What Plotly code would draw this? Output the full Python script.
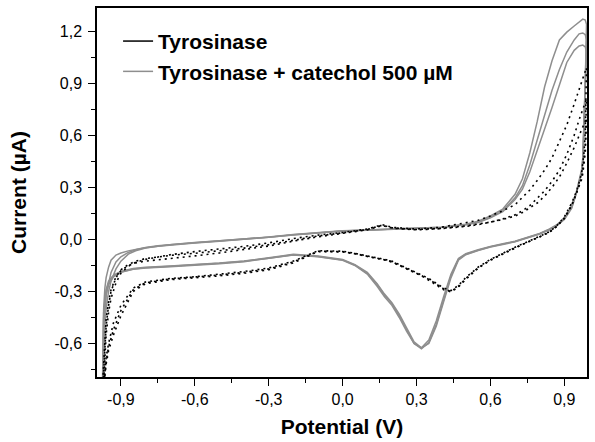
import plotly.graph_objects as go

# Potential grids (V)
E_FWD = [-0.975, -0.97, -0.965, -0.96, -0.95, -0.94, -0.92, -0.9, -0.87, -0.84, -0.8, -0.75, -0.7,
         -0.6, -0.5, -0.4, -0.3, -0.2, -0.1, 0.0, 0.1, 0.16, 0.2, 0.3, 0.4, 0.5, 0.55, 0.6, 0.65,
         0.7, 0.73, 0.76, 0.79, 0.82, 0.85, 0.88, 0.91, 0.94, 0.96, 0.975, 0.985, 0.99]
E_REV = [0.99, 0.985, 0.98, 0.975, 0.97, 0.96, 0.95, 0.93, 0.9, 0.87, 0.84, 0.8, 0.75, 0.7, 0.65,
         0.6, 0.55, 0.5, 0.47, 0.44, 0.41, 0.38, 0.35, 0.32, 0.29, 0.26, 0.23, 0.2, 0.17, 0.14,
         0.1, 0.05, 0.0, -0.1, -0.2, -0.3, -0.4, -0.5, -0.6, -0.7, -0.8, -0.85, -0.9, -0.93,
         -0.95, -0.96, -0.97, -0.975]

# Tyrosinase + catechol 500 uM (grey), three cycles, current in uA
cat1_fwd = [-0.85, -0.40, -0.28, -0.22, -0.16, -0.12, -0.09, -0.078, -0.066, -0.056, -0.046, -0.037,
            -0.03, -0.018, -0.008, 0.002, 0.014, 0.028, 0.04, 0.05, 0.055, 0.058, 0.06, 0.065, 0.07,
            0.088, 0.105, 0.135, 0.175, 0.26, 0.35, 0.50, 0.68, 0.88, 1.03, 1.15, 1.195, 1.23,
            1.255, 1.27, 1.265, 1.24]
cat2_fwd = [-0.9, -0.55, -0.40, -0.32, -0.25, -0.19, -0.13, -0.1, -0.075, -0.06, -0.048, -0.038,
            -0.031, -0.019, -0.009, 0.001, 0.013, 0.027, 0.039, 0.049, 0.054, 0.057, 0.059, 0.064,
            0.07, 0.086, 0.1, 0.128, 0.165, 0.24, 0.31, 0.43, 0.57, 0.71, 0.86, 0.98, 1.08, 1.15,
            1.185, 1.19, 1.18, 1.15]
cat3_fwd = [-0.95, -0.7, -0.5, -0.4, -0.3, -0.24, -0.17, -0.125, -0.085, -0.065, -0.05, -0.04,
            -0.032, -0.02, -0.01, 0.0, 0.012, 0.026, 0.038, 0.048, 0.053, 0.056, 0.058, 0.063,
            0.069, 0.084, 0.098, 0.124, 0.16, 0.23, 0.29, 0.39, 0.51, 0.63, 0.76, 0.89, 1.02, 1.09,
            1.115, 1.12, 1.11, 1.08]
cat1_rev = [1.24, 0.9, 0.62, 0.47, 0.4, 0.33, 0.28, 0.19, 0.12, 0.085, 0.06, 0.035, 0.012, -0.01,
            -0.025, -0.04, -0.06, -0.082, -0.11, -0.2, -0.33, -0.47, -0.58, -0.625, -0.6, -0.53,
            -0.45, -0.38, -0.33, -0.27, -0.2, -0.15, -0.12, -0.1, -0.09, -0.11, -0.128, -0.14,
            -0.15, -0.157, -0.165, -0.172, -0.19, -0.215, -0.26, -0.32, -0.5, -0.85]
cat2_rev = [1.15, 0.88, 0.6, 0.46, 0.39, 0.325, 0.275, 0.185, 0.118, 0.083, 0.058, 0.033, 0.01,
            -0.012, -0.027, -0.042, -0.062, -0.085, -0.115, -0.21, -0.35, -0.49, -0.595, -0.63,
            -0.6, -0.52, -0.44, -0.37, -0.32, -0.26, -0.195, -0.148, -0.118, -0.098, -0.088,
            -0.108, -0.126, -0.138, -0.148, -0.155, -0.163, -0.17, -0.188, -0.21, -0.25, -0.3,
            -0.45, -0.9]
cat3_rev = [1.08, 0.85, 0.58, 0.45, 0.385, 0.32, 0.27, 0.18, 0.115, 0.08, 0.056, 0.031, 0.008,
            -0.014, -0.029, -0.044, -0.064, -0.088, -0.12, -0.22, -0.36, -0.5, -0.6, -0.625, -0.59,
            -0.51, -0.43, -0.365, -0.315, -0.255, -0.19, -0.145, -0.116, -0.096, -0.086, -0.106,
            -0.124, -0.136, -0.146, -0.153, -0.161, -0.168, -0.185, -0.205, -0.24, -0.29, -0.42,
            -0.95]

# Tyrosinase (black dotted), three cycles
tyr1_fwd = [-0.95, -0.8, -0.65, -0.55, -0.42, -0.34, -0.25, -0.195, -0.155, -0.132, -0.115, -0.1,
            -0.088, -0.07, -0.055, -0.04, -0.02, 0.005, 0.025, 0.04, 0.06, 0.085, 0.07, 0.06, 0.07,
            0.095, 0.11, 0.135, 0.165, 0.2, 0.24, 0.285, 0.34, 0.4, 0.47, 0.56, 0.66, 0.78, 0.87,
            0.93, 0.97, 0.99]
tyr2_fwd = [-0.9, -0.75, -0.6, -0.5, -0.38, -0.3, -0.22, -0.18, -0.15, -0.135, -0.125, -0.118,
            -0.11, -0.095, -0.078, -0.06, -0.038, -0.01, 0.015, 0.035, 0.055, 0.08, 0.065, 0.055,
            0.062, 0.075, 0.085, 0.1, 0.118, 0.142, 0.165, 0.195, 0.235, 0.28, 0.335, 0.4, 0.49,
            0.6, 0.69, 0.75, 0.79, 0.81]
tyr3_fwd = [-0.85, -0.7, -0.55, -0.46, -0.36, -0.29, -0.215, -0.175, -0.145, -0.125, -0.11, -0.1,
            -0.092, -0.08, -0.066, -0.05, -0.03, -0.005, 0.02, 0.038, 0.057, 0.082, 0.067, 0.057,
            0.064, 0.078, 0.088, 0.1, 0.115, 0.135, 0.155, 0.18, 0.21, 0.25, 0.3, 0.36, 0.44, 0.53,
            0.6, 0.65, 0.68, 0.7]
tyr1_rev = [0.99, 0.62, 0.5, 0.43, 0.38, 0.33, 0.28, 0.21, 0.13, 0.08, 0.045, 0.018, -0.012,
            -0.045, -0.08, -0.115, -0.16, -0.22, -0.265, -0.295, -0.28, -0.25, -0.225, -0.205,
            -0.185, -0.165, -0.145, -0.125, -0.115, -0.105, -0.095, -0.08, -0.068, -0.065, -0.125,
            -0.165, -0.185, -0.2, -0.215, -0.225, -0.245, -0.28, -0.38, -0.48, -0.6, -0.68, -0.82,
            -0.95]
tyr2_rev = [0.81, 0.55, 0.46, 0.4, 0.36, 0.315, 0.27, 0.2, 0.125, 0.077, 0.043, 0.016, -0.014,
            -0.047, -0.082, -0.118, -0.163, -0.225, -0.27, -0.3, -0.285, -0.255, -0.23, -0.208,
            -0.188, -0.168, -0.148, -0.128, -0.117, -0.107, -0.097, -0.082, -0.07, -0.068, -0.13,
            -0.17, -0.19, -0.205, -0.218, -0.228, -0.25, -0.29, -0.41, -0.52, -0.62, -0.7, -0.85,
            -0.95]
tyr3_rev = [0.7, 0.5, 0.43, 0.38, 0.345, 0.305, 0.265, 0.195, 0.12, 0.075, 0.042, 0.014, -0.016,
            -0.05, -0.085, -0.12, -0.166, -0.23, -0.275, -0.302, -0.29, -0.26, -0.235, -0.21, -0.19,
            -0.17, -0.15, -0.13, -0.118, -0.108, -0.098, -0.083, -0.072, -0.07, -0.135, -0.175,
            -0.195, -0.21, -0.222, -0.232, -0.255, -0.3, -0.44, -0.55, -0.64, -0.72, -0.85, -0.95]

X_TICKS = [-0.9, -0.6, -0.3, 0.0, 0.3, 0.6, 0.9]
X_LABELS = ["-0,9", "-0,6", "-0,3", "0,0", "0,3", "0,6", "0,9"]
Y_TICKS = [-0.6, -0.3, 0.0, 0.3, 0.6, 0.9, 1.2]
Y_LABELS = ["-0,6", "-0,3", "0,0", "0,3", "0,6", "0,9", "1,2"]
X_MINOR = [-0.75, -0.45, -0.15, 0.15, 0.45, 0.75]
Y_MINOR = [-0.75, -0.45, -0.15, 0.15, 0.45, 0.75, 1.05]

LEGEND_NAMES = ["Tyrosinase", "Tyrosinase + catechol 500 µM"]

GREY = "#8e8e8e"
FONT = "Arial, 'Liberation Sans', sans-serif"

fig = go.Figure()
for fwd, rev in [(cat1_fwd, cat1_rev), (cat2_fwd, cat2_rev), (cat3_fwd, cat3_rev)]:
    fig.add_trace(go.Scatter(x=E_FWD + E_REV, y=fwd + rev, mode="lines",
                             line=dict(color=GREY, width=1.5), showlegend=False,
                             hoverinfo="skip"))
for fwd, rev in [(tyr1_fwd, tyr1_rev), (tyr2_fwd, tyr2_rev), (tyr3_fwd, tyr3_rev)]:
    fig.add_trace(go.Scatter(x=E_FWD + E_REV, y=fwd + rev, mode="lines",
                             line=dict(color="black", width=1.6, dash="2px,4px"),
                             showlegend=False, hoverinfo="skip"))

# legend entries
fig.add_trace(go.Scatter(x=[None], y=[None], mode="lines", name="<b>%s</b>" % LEGEND_NAMES[0],
                         line=dict(color="black", width=1.5), legendgroup="a"))
fig.add_trace(go.Scatter(x=[None], y=[None], mode="lines", name="<b>%s</b>" % LEGEND_NAMES[1],
                         line=dict(color=GREY, width=1.5), legendgroup="b"))

axis_common = dict(
    showline=True, linecolor="black", linewidth=1.5, mirror=True,
    ticks="outside", ticklen=7, tickwidth=1.3, tickcolor="black",
    showgrid=False, zeroline=False,
    tickfont=dict(family=FONT, size=16, color="black"),
)

fig.update_xaxes(range=[-0.997, 0.992], tickmode="array", tickvals=X_TICKS, ticktext=X_LABELS,
                 minor=dict(tickvals=X_MINOR, ticks="outside", ticklen=4, tickwidth=1.2,
                            tickcolor="black"),
                 title=dict(text="<b>Potential (V)</b>", font=dict(family=FONT, size=21, color="black"),
                            standoff=12),
                 **axis_common)
fig.update_yaxes(range=[-0.793, 1.334], tickmode="array", tickvals=Y_TICKS, ticktext=Y_LABELS,
                 ticklabelstandoff=3,
                 minor=dict(tickvals=Y_MINOR, ticks="outside", ticklen=4, tickwidth=1.2,
                            tickcolor="black"),
                 title=dict(text="<b>Current (µA)</b>", font=dict(family=FONT, size=21, color="black"),
                            standoff=22),
                 **axis_common)

fig.update_layout(
    width=595, height=442,
    margin=dict(l=97, r=6, t=8, b=65),
    paper_bgcolor="white", plot_bgcolor="white",
    font=dict(family=FONT, color="black"),
    legend=dict(x=0.043, y=0.965, xanchor="left", yanchor="top",
                font=dict(family=FONT, size=21, color="black"),
                bgcolor="rgba(0,0,0,0)", tracegroupgap=0, itemwidth=30),
)

fig.write_html("out.html")
